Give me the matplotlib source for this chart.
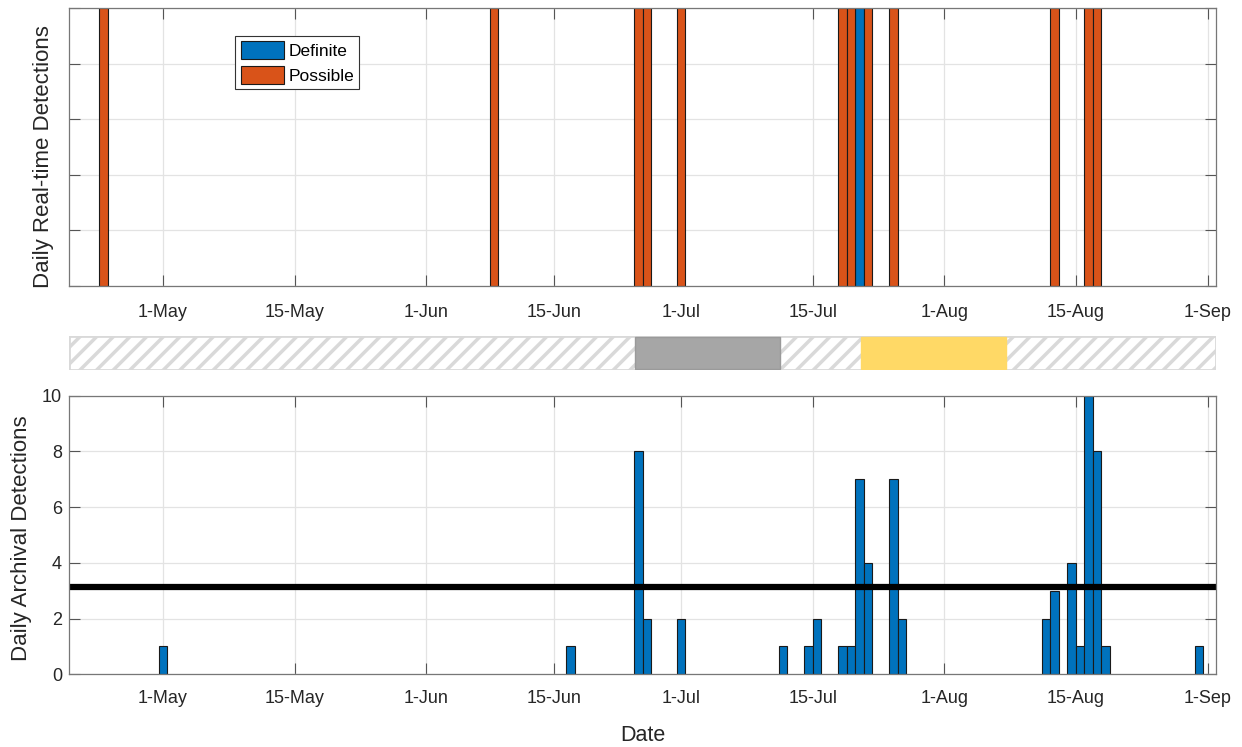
import matplotlib.pyplot as plt
import matplotlib.dates as mdates
import pandas as pd
from matplotlib.patches import Rectangle

plt.rcParams['font.family'] = ['Liberation Sans', 'DejaVu Sans']
plt.rcParams['hatch.linewidth'] = 2.5

# real-time detections (one bar per day)
rt_possible = ['2019-04-24', '2019-06-09', '2019-06-26', '2019-06-27', '2019-07-01',
               '2019-07-20', '2019-07-21', '2019-07-23', '2019-07-26', '2019-08-14',
               '2019-08-18', '2019-08-19']
rt_definite = ['2019-07-22']

# archival detections per day
arch_dates = ['2019-05-01', '2019-06-18', '2019-06-26', '2019-06-27', '2019-07-01',
              '2019-07-13', '2019-07-16', '2019-07-17', '2019-07-20', '2019-07-21',
              '2019-07-22', '2019-07-23', '2019-07-26', '2019-07-27', '2019-08-13',
              '2019-08-14', '2019-08-16', '2019-08-17', '2019-08-18', '2019-08-19',
              '2019-08-20', '2019-08-31']
arch_counts = [1, 1, 8, 2, 2, 1, 1, 2, 1, 1, 7, 4, 7, 2, 2, 3, 4, 1, 10, 8, 1, 1]
threshold = 3.15

# periods shown in the strip between the panels
gray_period = ['2019-06-25 14:00', '2019-07-12 17:00']
yellow_period = ['2019-07-22 05:00', '2019-08-08 05:00']

x_range = ['2019-04-19 22:20', '2019-09-02 00:00']
month_starts = ['2019-05-01', '2019-06-01', '2019-07-01', '2019-08-01', '2019-09-01']
tick_labels = ['1-May', '15-May', '1-Jun', '15-Jun', '1-Jul', '15-Jul', '1-Aug', '15-Aug', '1-Sep']

BLUE = '#0072BD'
ORANGE = '#D95319'
TXT = '#262626'


def num(d):
    return mdates.date2num(pd.to_datetime(d))


# ticks: month starts and month midpoints
starts = [num(d) for d in month_starts]
ticks = []
for a, b in zip(starts[:-1], starts[1:]):
    ticks += [a, (a + b) / 2]
ticks.append(starts[-1])
xlim = (num(x_range[0]), num(x_range[1]))


def style(ax, xpad):
    ax.set_xlim(xlim)
    ax.set_xticks(ticks)
    ax.set_xticklabels(tick_labels)
    ax.grid(True, color='#e3e3e3', linewidth=0.9)
    ax.set_axisbelow(True)
    ax.tick_params(direction='in', length=8, width=0.8, color='#555555',
                   top=True, right=True, labelsize=13, labelcolor=TXT)
    ax.tick_params(axis='x', pad=xpad)
    for s in ax.spines.values():
        s.set_color('#777777')
        s.set_linewidth(0.9)


fig = plt.figure(figsize=(12.42, 7.47), dpi=100)
ax1 = fig.add_axes([0.0556, 0.6171, 0.9235, 0.3722])
ax_s = fig.add_axes([0.0556, 0.5047, 0.9235, 0.0455])
ax2 = fig.add_axes([0.0556, 0.0973, 0.9235, 0.3730])

# top panel
ax1.bar([num(d) for d in rt_definite], [1] * len(rt_definite), width=1.0,
        color=BLUE, edgecolor='#1a1a1a', linewidth=0.8, label='Definite')
ax1.bar([num(d) for d in rt_possible], [1] * len(rt_possible), width=1.0,
        color=ORANGE, edgecolor='#1a1a1a', linewidth=0.8, label='Possible')
style(ax1, 13)
ax1.set_ylim(0, 1)
ax1.set_yticks([0, 0.2, 0.4, 0.6, 0.8, 1.0])
ax1.set_yticklabels([])
ax1.set_ylabel('Daily Real-time Detections', fontsize=16, color=TXT)
ax1.yaxis.set_label_coords(-0.0135, 0.465)
leg = ax1.legend(loc='upper left', bbox_to_anchor=(0.145, 0.899), fontsize=12.5,
                 fancybox=False, framealpha=1, edgecolor='#333333',
                 handlelength=2.5, handleheight=1.2, borderpad=0.3,
                 labelspacing=0.4, handletextpad=0.25, borderaxespad=0)
leg.get_frame().set_linewidth(0.8)

# strip
ax_s.set_xlim(xlim)
ax_s.set_ylim(0, 1)
ax_s.axis('off')
ax_s.add_patch(Rectangle((xlim[0], 0), xlim[1] - xlim[0], 1, facecolor='white',
                         edgecolor='#d9d9d9', hatch='//', linewidth=2))
g0, g1 = num(gray_period[0]), num(gray_period[1])
ax_s.add_patch(Rectangle((g0, 0.02), g1 - g0, 0.96, facecolor='#a6a6a6',
                         edgecolor='#9a9a9a', linewidth=1))
y0, y1 = num(yellow_period[0]), num(yellow_period[1])
ax_s.add_patch(Rectangle((y0, 0.02), y1 - y0, 0.96, facecolor='#ffd966',
                         edgecolor='#ffd966', linewidth=1))

# bottom panel
ax2.bar([num(d) for d in arch_dates], arch_counts, width=1.0,
        color=BLUE, edgecolor='#1a1a1a', linewidth=0.8)
ax2.axhline(threshold, xmin=0, xmax=0.997, color='black', linewidth=4.5)
style(ax2, 11)
ax2.set_ylim(0, 10)
ax2.set_yticks([0, 2, 4, 6, 8, 10])
ax2.tick_params(axis='y', pad=5)
ax2.set_ylabel('Daily Archival Detections', fontsize=16, color=TXT)
ax2.yaxis.set_label_coords(-0.032, 0.49)
ax2.set_xlabel('Date', fontsize=15.5, color=TXT, labelpad=13)

fig.savefig('out.png', dpi=100)
